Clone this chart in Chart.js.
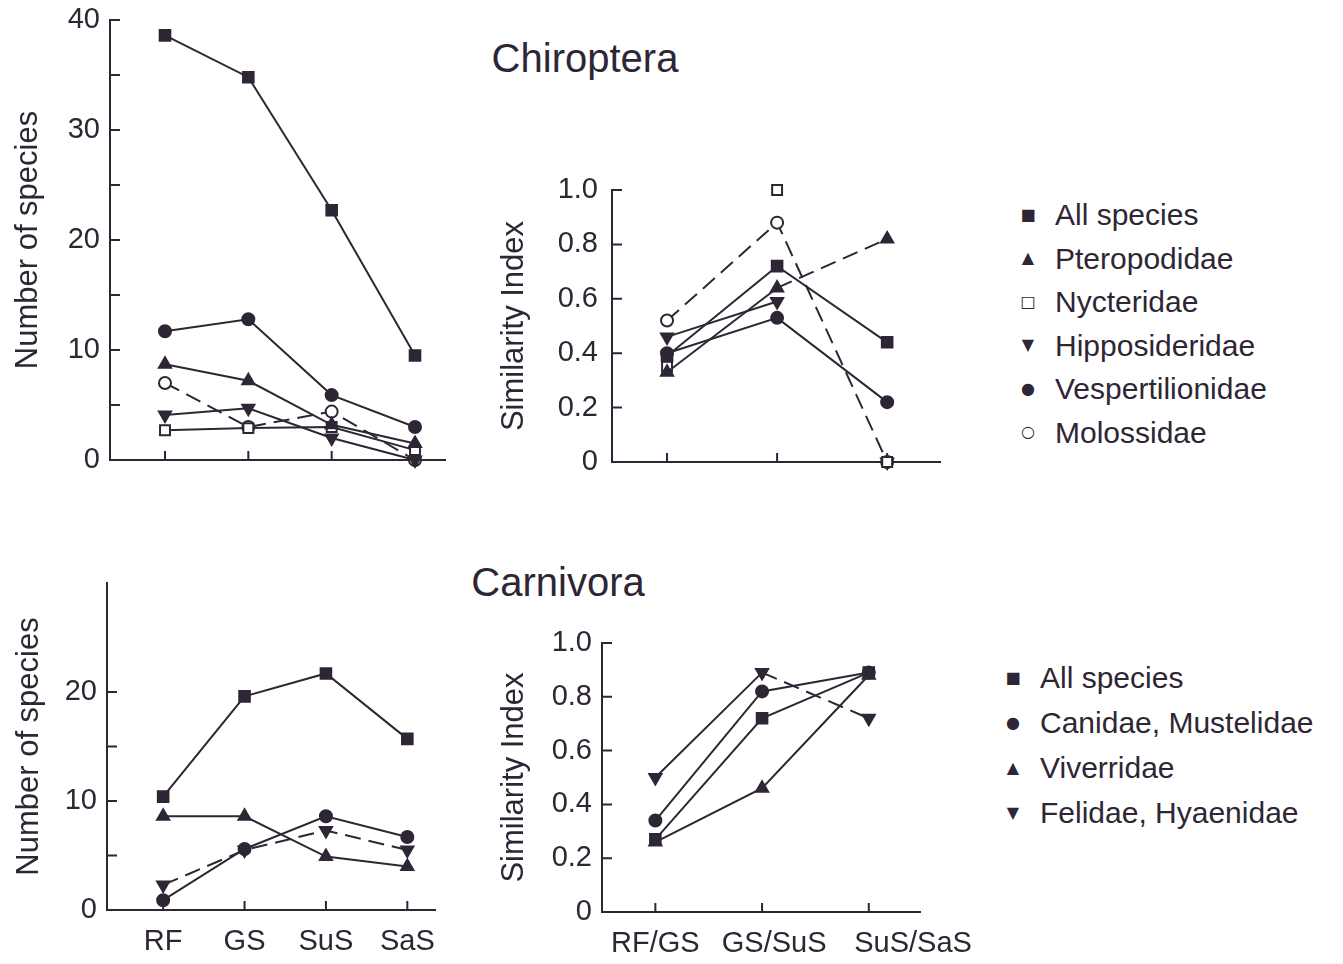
<!DOCTYPE html>
<html>
<head>
<meta charset="utf-8">
<script src="https://cdn.jsdelivr.net/npm/chart.js@4.4.1/dist/chart.umd.min.js"></script>
<style>
  body { margin: 0; background: #fff; width: 1343px; height: 964px; position: relative; overflow: hidden;
         font-family: 'Liberation Sans', Arial, sans-serif; color: #2e2634; }
  canvas { position: absolute; }
  .ttl { position: absolute; font-size: 40px; transform: translate(-50%, -50%); white-space: nowrap; }
  .leg { position: absolute; font-size: 30px; white-space: nowrap; transform: translateY(-50%); }
  .leg span { display: inline-block; width: 20px; margin-left: -37px; margin-right: 17px; text-align: center; font-size: 16px;
              font-family: 'DejaVu Sans', sans-serif; vertical-align: middle; position: relative; top: -3px; }
</style>
</head>
<body>
<div class="ttl" style="left:585px; top:58px">Chiroptera</div>
<div class="ttl" style="left:558px; top:582px">Carnivora</div>
<canvas id="batCount" width="460" height="480" style="left:0; top:0"></canvas>
<canvas id="batSim" width="480" height="340" style="left:480px; top:150px"></canvas>
<canvas id="carnCount" width="460" height="404" style="left:0; top:560px"></canvas>
<canvas id="carnSim" width="520" height="364" style="left:480px; top:600px"></canvas>
<div id="batLegend"></div>
<div id="carnLegend"></div>
<script>
// habitats and habitat pairs
const habitats = ['RF', 'GS', 'SuS', 'SaS'];
const pairs = ['RF/GS', 'GS/SuS', 'SuS/SaS'];

// Chiroptera
const batNames = ['All species', 'Pteropodidae', 'Nycteridae', 'Hipposideridae', 'Vespertilionidae', 'Molossidae'];
const batAllCount = [38.6, 34.8, 22.7, 9.5];
const batPteroCount = [8.7, 7.2, 3.2, 1.5];
const batNycterCount = [2.7, 2.9, 3.0, 0.9];
const batHippoCount = [4.1, 4.7, 2.0, 0];
const batVespCount = [11.7, 12.8, 5.9, 3.0];
const batMolossCount = [7.0, 3.0, 4.4, 0];

const batAllSim = [0.39, 0.72, 0.44];
const batPteroSim = [0.33, 0.64, 0.82];
const batNycterSim = [0.35, 1.0, 0];
const batHippoSim = [0.46, 0.59, 0];
const batVespSim = [0.40, 0.53, 0.22];
const batMolossSim = [0.52, 0.88, 0];

// Carnivora
const carnNames = ['All species', 'Canidae, Mustelidae', 'Viverridae', 'Felidae, Hyaenidae'];
const carnAllCount = [10.4, 19.6, 21.7, 15.7];
const carnCanidCount = [0.9, 5.6, 8.6, 6.7];
const carnViverCount = [8.6, 8.6, 4.9, 4.0];
const carnFelidCount = [2.3, 5.5, 7.3, 5.5];

const carnAllSim = [0.27, 0.72, 0.89];
const carnCanidSim = [0.34, 0.82, 0.89];
const carnViverSim = [0.26, 0.46, 0.88];
const carnFelidSim = [0.50, 0.89, 0.72];

const ink = '#2e2634';
const fontFamily = "'Liberation Sans', Arial, sans-serif";

// marker looks
const marks = {
  square: { pointStyle: 'rect', pointRadius: 7.5, pointBackgroundColor: ink, sym: '■' },
  tri: { pointStyle: 'triangle', pointRadius: 7, pointBackgroundColor: ink, sym: '▲' },
  openSquare: { pointStyle: 'rect', pointRadius: 7, pointBackgroundColor: '#fff', sym: '□' },
  downTri: { pointStyle: 'triangle', pointRotation: 180, pointRadius: 7, pointBackgroundColor: ink, sym: '▼' },
  dot: { pointStyle: 'circle', pointRadius: 6, pointBackgroundColor: ink, sym: '●' },
  ring: { pointStyle: 'circle', pointRadius: 6, pointBackgroundColor: '#fff', sym: '○' }
};
const batMarks = [marks.square, marks.tri, marks.openSquare, marks.downTri, marks.dot, marks.ring];
const carnMarks = [marks.square, marks.dot, marks.tri, marks.downTri];

// the printed pair labels sit a little right of their ticks (spaces to pad)
const pairLabelPad = [0, 3, 11];

function series(label, values, mark, extra) {
  const { sym, ...look } = mark;
  return Object.assign({
    label: label,
    data: values.map((v, i) => ({ x: i, y: v })),
    borderColor: ink,
    borderWidth: 2,
    pointBorderColor: ink,
    pointBorderWidth: 2,
    pointHoverRadius: look.pointRadius,
    clip: false,
    tension: 0
  }, look, extra || {});
}

// small tick marks pointing into the plot
const inwardTicks = {
  id: 'inwardTicks',
  beforeDatasetsDraw(chart) {
    const { ctx, chartArea: a, scales: { x, y } } = chart;
    ctx.save();
    ctx.strokeStyle = ink;
    ctx.lineWidth = 2;
    ctx.beginPath();
    y.ticks.forEach(t => {
      const py = y.getPixelForValue(t.value);
      ctx.moveTo(a.left, py);
      ctx.lineTo(a.left + 10, py);
    });
    x.ticks.forEach(t => {
      const px = x.getPixelForValue(t.value);
      ctx.moveTo(px, a.bottom);
      ctx.lineTo(px, a.bottom - 9);
    });
    ctx.stroke();
    ctx.restore();
  }
};

function noPad(s) {
  s.paddingTop = 0;
  s.paddingBottom = 0;
  s.paddingLeft = 0;
  s.paddingRight = 0;
}

function makePanel(id, cats, datasets, c) {
  new Chart(document.getElementById(id), {
    type: 'line',
    data: { datasets: datasets },
    plugins: [inwardTicks],
    options: {
      responsive: false,
      animation: false,
      layout: { padding: c.padding },
      plugins: { legend: { display: false }, tooltip: { enabled: false } },
      scales: {
        x: {
          type: 'linear',
          min: c.xMin,
          max: c.xMax,
          grid: { display: false, drawTicks: false },
          border: { display: true, color: ink, width: 2 },
          afterBuildTicks: s => { s.ticks = cats.map((cat, i) => ({ value: i })); },
          afterFit: s => { s.height = c.xHeight; noPad(s); },
          ticks: {
            display: c.showX,
            autoSkip: false,
            maxRotation: 0,
            padding: 15,
            color: ink,
            font: { family: fontFamily, size: 29 },
            callback: c.xLabel || (v => cats[v])
          }
        },
        y: {
          min: 0,
          max: c.yMax,
          grid: { display: false, drawTicks: false },
          border: { display: true, color: ink, width: 2 },
          afterBuildTicks: s => { s.ticks = s.ticks.filter(t => t.value <= c.tickTop + 1e-9); },
          afterFit: s => { s.width = c.yWidth; noPad(s); },
          ticks: {
            stepSize: c.yStep,
            padding: c.yTickPad,
            color: ink,
            font: { family: fontFamily, size: 29 },
            callback: c.yLabel
          },
          title: {
            display: true,
            text: c.yTitle,
            color: ink,
            padding: { top: c.titlePad, bottom: 0 },
            font: { family: fontFamily, size: 31 }
          }
        }
      }
    }
  });
}

const countLabel = v => (Math.round(v) % 10 === 0 ? String(Math.round(v)) : '');
const simLabel = v => (Math.abs(v) < 1e-9 ? '0' : v.toFixed(1));
const pairLabel = v => ' '.repeat(pairLabelPad[v]) + pairs[v];
const dashed = { borderDash: [16, 8] };
const dashSecond = { segment: { borderDash: s => (s.p0DataIndex === 1 ? [16, 8] : undefined) } };

makePanel('batCount', habitats, [
  series(batNames[0], batAllCount, batMarks[0]),
  series(batNames[1], batPteroCount, batMarks[1]),
  series(batNames[2], batNycterCount, batMarks[2]),
  series(batNames[3], batHippoCount, batMarks[3]),
  series(batNames[4], batVespCount, batMarks[4]),
  series(batNames[5], batMolossCount, batMarks[5], dashed)
], { padding: { top: 20, right: 15, left: 0, bottom: 0 }, xMin: -0.66, xMax: 3.36, xHeight: 20, showX: false,
     yMax: 40, yStep: 5, tickTop: 40, yLabel: countLabel, yTickPad: 10, yWidth: 110, yTitle: 'Number of species', titlePad: 10 });

makePanel('batSim', pairs, [
  series(batNames[0], batAllSim, batMarks[0]),
  series(batNames[1], batPteroSim, batMarks[1], dashSecond),
  series(batNames[2], batNycterSim, batMarks[2], { showLine: false }),
  series(batNames[3], batHippoSim, batMarks[3], { segment: { borderColor: s => (s.p0DataIndex === 1 ? 'rgba(0,0,0,0)' : undefined) } }),
  series(batNames[4], batVespSim, batMarks[4]),
  series(batNames[5], batMolossSim, batMarks[5], dashed)
], { padding: { top: 40, right: 20, left: 0, bottom: 0 }, xMin: -0.5, xMax: 2.48, xHeight: 28, showX: false,
     yMax: 1.0, yStep: 0.2, tickTop: 1.0, yLabel: simLabel, yTickPad: 14, yWidth: 132, yTitle: 'Similarity Index', titlePad: 16 });

makePanel('carnCount', habitats, [
  series(carnNames[0], carnAllCount, carnMarks[0]),
  series(carnNames[1], carnCanidCount, carnMarks[1]),
  series(carnNames[2], carnViverCount, carnMarks[2]),
  series(carnNames[3], carnFelidCount, carnMarks[3], dashed)
], { padding: { top: 23, right: 25, left: 0, bottom: 0 }, xMin: -0.69, xMax: 3.34, xHeight: 54, showX: true,
     yMax: 30, yStep: 5, tickTop: 20, yLabel: countLabel, yTickPad: 10, yWidth: 107, yTitle: 'Number of species', titlePad: 11 });

makePanel('carnSim', pairs, [
  series(carnNames[0], carnAllSim, carnMarks[0]),
  series(carnNames[1], carnCanidSim, carnMarks[1]),
  series(carnNames[2], carnViverSim, carnMarks[2]),
  series(carnNames[3], carnFelidSim, carnMarks[3], dashSecond)
], { padding: { top: 43, right: 80, left: 0, bottom: 0 }, xMin: -0.5, xMax: 2.48, xHeight: 52, showX: true, xLabel: pairLabel,
     yMax: 1.0, yStep: 0.2, tickTop: 1.0, yLabel: simLabel, yTickPad: 10, yWidth: 122, yTitle: 'Similarity Index', titlePad: 16 });

// legends
function legend(holderId, names, markList, left, top, step) {
  const holder = document.getElementById(holderId);
  names.forEach((n, i) => {
    const row = document.createElement('div');
    row.className = 'leg';
    row.style.left = left + 'px';
    row.style.top = (top + i * step) + 'px';
    row.innerHTML = '<span>' + markList[i].sym + '</span>' + n;
    holder.appendChild(row);
  });
}
legend('batLegend', batNames, batMarks, 1055, 215, 43.5);
legend('carnLegend', carnNames, carnMarks, 1040, 678, 45);
</script>
</body>
</html>
